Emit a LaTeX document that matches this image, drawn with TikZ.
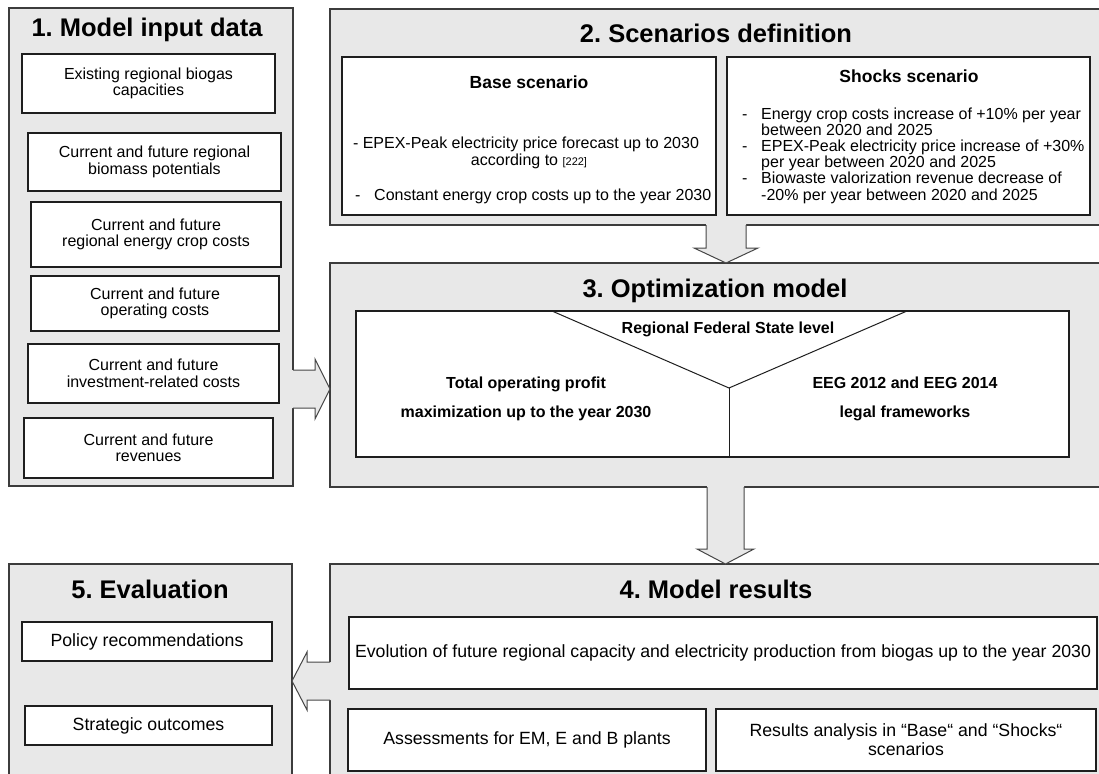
\documentclass[tikz,border=0pt]{standalone}
\usepackage{fontspec}
\setmainfont{Liberation Sans}
\usetikzlibrary{calc}
\definecolor{panelgray}{RGB}{232,232,232}
\definecolor{edgegray}{RGB}{60,60,60}
\definecolor{boxedge}{RGB}{30,30,30}
\definecolor{arrowedge}{RGB}{70,70,70}
\frenchspacing

\begin{document}
\begin{tikzpicture}[x=1pt,y=-1pt,
  panel/.style={draw=edgegray, line width=1.2pt, fill=panelgray, inner sep=0pt, outer sep=0pt, anchor=north west},
  inbox/.style={draw=boxedge, line width=1.5pt, fill=white, inner sep=0pt, outer sep=0pt, anchor=north west, align=center, font=\fontsize{16pt}{16.5pt}\selectfont},
  bigbox/.style={inbox, font=\fontsize{17.7pt}{19pt}\selectfont},
  ttl/.style={anchor=base, inner sep=0pt, font=\fontsize{25.5pt}{28pt}\selectfont\bfseries},
  sub/.style={anchor=base, inner sep=0pt, font=\fontsize{17.5pt}{20pt}\selectfont\bfseries},
  txt/.style={anchor=base, inner sep=0pt, font=\fontsize{16pt}{16.5pt}\selectfont},
  btxt/.style={anchor=base, inner sep=0pt, font=\fontsize{16pt}{16.5pt}\selectfont\bfseries},
  arrowline/.style={draw=arrowedge, line width=1pt, line join=miter},
  thinline/.style={draw=boxedge, line width=1pt},
]
\useasboundingbox (0,0) rectangle (1099,773);
\clip (0,0) rectangle (1099,773);

% ---------- panels ----------
\node[panel, minimum width=284pt, minimum height=478pt] (p1) at (9,8) {};
\node[panel, minimum width=790pt, minimum height=216pt] (p2) at (330,9) {};
\node[panel, minimum width=790pt, minimum height=224pt] (p3) at (330,263) {};
\node[panel, minimum width=790pt, minimum height=240pt] (p4) at (330,564) {};
\node[panel, minimum width=283pt, minimum height=240pt] (p5) at (9,564) {};

% ---------- block arrows between panels ----------
% 1 -> 3
\coordinate (r13) at (311,389);
\coordinate (s13) at (p1.east |- r13);
\coordinate (t13) at (p3.west |- r13);
\fill[panelgray] ($(s13)+(-1.5,-19)$) -- ($(t13)+(-15,-19)$) -- ($(t13)+(-15,-30)$) -- (t13)
  -- ($(t13)+(-15,30)$) -- ($(t13)+(-15,19)$) -- ($(s13)+(-1.5,19)$) -- cycle;
\draw[arrowline] ($(s13)+(0,-19)$) -- ($(t13)+(-15,-19)$) -- ($(t13)+(-15,-30)$) -- (t13)
  -- ($(t13)+(-15,30)$) -- ($(t13)+(-15,19)$) -- ($(s13)+(0,19)$);

% 2 -> 3
\coordinate (r23) at (726,240);
\coordinate (s23) at (r23 |- p2.south);
\coordinate (t23) at (r23 |- p3.north);
\fill[panelgray] ($(s23)+(-20,-1.5)$) -- ($(t23)+(-20,-15)$) -- ($(t23)+(-32,-15)$) -- (t23)
  -- ($(t23)+(32,-15)$) -- ($(t23)+(20,-15)$) -- ($(s23)+(20,-1.5)$) -- cycle;
\draw[arrowline] ($(s23)+(-20,0)$) -- ($(t23)+(-20,-15)$) -- ($(t23)+(-32,-15)$) -- (t23)
  -- ($(t23)+(32,-15)$) -- ($(t23)+(20,-15)$) -- ($(s23)+(20,0)$);

% 3 -> 4
\coordinate (r34) at (725.5,520);
\coordinate (s34) at (r34 |- p3.south);
\coordinate (t34) at (r34 |- p4.north);
\fill[panelgray] ($(s34)+(-18.5,-1.5)$) -- ($(t34)+(-18.5,-15)$) -- ($(t34)+(-28.5,-15)$) -- (t34)
  -- ($(t34)+(28.5,-15)$) -- ($(t34)+(18.5,-15)$) -- ($(s34)+(18.5,-1.5)$) -- cycle;
\draw[arrowline] ($(s34)+(-18.5,0)$) -- ($(t34)+(-18.5,-15)$) -- ($(t34)+(-28.5,-15)$) -- (t34)
  -- ($(t34)+(28.5,-15)$) -- ($(t34)+(18.5,-15)$) -- ($(s34)+(18.5,0)$);

% 4 -> 5
\coordinate (r45) at (311,681);
\coordinate (s45) at (p4.west |- r45);
\coordinate (t45) at (p5.east |- r45);
\fill[panelgray] ($(s45)+(1.5,-19)$) -- ($(t45)+(15,-19)$) -- ($(t45)+(15,-29)$) -- (t45)
  -- ($(t45)+(15,29)$) -- ($(t45)+(15,19)$) -- ($(s45)+(1.5,19)$) -- cycle;
\draw[arrowline] ($(s45)+(0,-19)$) -- ($(t45)+(15,-19)$) -- ($(t45)+(15,-29)$) -- (t45)
  -- ($(t45)+(15,29)$) -- ($(t45)+(15,19)$) -- ($(s45)+(0,19)$);

% ---------- titles ----------
\node[ttl] (t1) at (147,37) {1. Model input data};
\node[ttl] (t2) at (716,43) {2. Scenarios definition};
\node[ttl] (t3) at (715,297) {3. Optimization model};
\node[ttl] (t4) at (716,598) {4. Model results};
\node[ttl] (t5) at (150,598) {5. Evaluation};

% ---------- 1. model input data ----------
\node[inbox, minimum width=253pt, minimum height=59pt] (i1) at (22,54) {Existing regional biogas\\capacities};
\node[inbox, minimum width=253pt, minimum height=58pt] (i2) at (28,133) {Current and future regional\\biomass potentials};
\node[inbox, minimum width=250pt, minimum height=65pt] (i3) at (31,202) {Current and future\\regional energy crop costs};
\node[inbox, minimum width=248pt, minimum height=55pt] (i4) at (31,276) {Current and future\\operating costs};
\node[inbox, minimum width=251pt, minimum height=59pt] (i5) at (28,344) {Current and future\\investment-related costs};
\node[inbox, minimum width=249pt, minimum height=60pt] (i6) at (24,418) {Current and future\\revenues};

% ---------- 2. scenarios ----------
\node[inbox, minimum width=374pt, minimum height=158pt] (base) at (342,57) {};
\node[inbox, minimum width=363pt, minimum height=158pt] (shock) at (727,57) {};
\node[sub] (bt) at (529,89) {Base scenario};
\node[sub] (st) at (909,83) {Shocks scenario};

\node[txt] (b1) at (526,148) {- EPEX-Peak electricity price forecast up to 2030};
\node[txt] (b2) at (529,165) {according to {\fontsize{11pt}{12pt}\selectfont[222]}};
\node[txt, anchor=base west] (b3d) at (355,200) {-};
\node[txt, anchor=base west] (b3) at (374,200) {Constant energy crop costs up to the year 2030};

\node[txt, anchor=base west] (d1) at (742,119) {-};
\node[txt, anchor=base west] (d2) at (742,151.4) {-};
\node[txt, anchor=base west] (d3) at (742,183.8) {-};
\node[txt, anchor=base west] (s1) at (761,119) {Energy crop costs increase of +10\% per year};
\node[txt, anchor=base west] (s2) at (761,135.2) {between 2020 and 2025};
\node[txt, anchor=base west] (s3) at (761,151.4) {EPEX-Peak electricity price increase of +30\%};
\node[txt, anchor=base west] (s4) at (761,167.6) {per year between 2020 and 2025};
\node[txt, anchor=base west] (s5) at (761,183.8) {Biowaste valorization revenue decrease of};
\node[txt, anchor=base west] (s6) at (761,200) {-20\% per year between 2020 and 2025};

% ---------- 3. optimization model ----------
\node[inbox, minimum width=713pt, minimum height=146pt] (opt) at (356,311) {};
\coordinate (vb) at (729,388);
\draw[thinline] ($(opt.north west)+(196,0)$) -- (vb) -- ($(opt.north west)+(551,0)$);
\draw[thinline] (vb) -- (vb |- opt.south);
\node[btxt] (rf) at (728,333) {Regional Federal State level};
\node[btxt] (tp1) at (526,388) {Total operating profit};
\node[btxt] (tp2) at (526,417) {maximization up to the year 2030};
\node[btxt] (eg1) at (905,388) {EEG 2012 and EEG 2014};
\node[btxt] (eg2) at (905,417) {legal frameworks};

% ---------- 4. model results ----------
\node[bigbox, minimum width=748pt, minimum height=72pt] (evo) at (349,617) {Evolution of future regional capacity and electricity production from biogas up to the year 2030};
\node[bigbox, minimum width=358pt, minimum height=62pt] (ass) at (348,709) {Assessments for EM, E and B plants};
\node[bigbox, minimum width=380pt, minimum height=62pt] (res) at (716,709) {Results analysis in “Base“ and “Shocks“\\scenarios};

% ---------- 5. evaluation ----------
\node[bigbox, minimum width=250pt, minimum height=39pt] (pol) at (22,622) {Policy recommendations};
\node[bigbox, minimum width=247pt, minimum height=39pt] (str) at (25,706) {Strategic outcomes};
\end{tikzpicture}
\end{document}
